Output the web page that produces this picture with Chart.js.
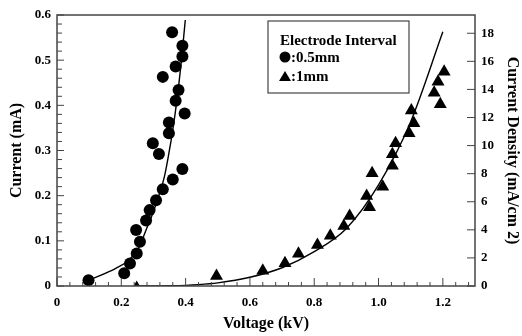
<!DOCTYPE html>
<html>
<head>
<meta charset="utf-8">
<script src="https://cdn.jsdelivr.net/npm/chart.js@4.4.1/dist/chart.umd.min.js"></script>
<style>
  html, body { margin: 0; padding: 0; background: #fff; }
</style>
</head>
<body>
<canvas id="myChart" width="522" height="336"></canvas>
<script>
// 0.5 mm electrode interval: voltage (kV) / current (mA)
var circleVolt = [0.098, 0.209, 0.227, 0.248, 0.258, 0.246, 0.277, 0.288, 0.308, 0.329, 0.360, 0.390,
                  0.317, 0.298, 0.348, 0.348, 0.397, 0.369, 0.378, 0.329, 0.369, 0.390, 0.390, 0.358];
var circleCurrent = [0.013, 0.028, 0.050, 0.072, 0.098, 0.124, 0.145, 0.168, 0.190, 0.214, 0.236, 0.259,
                     0.292, 0.316, 0.338, 0.362, 0.382, 0.410, 0.434, 0.463, 0.486, 0.508, 0.532, 0.562];

// 1 mm electrode interval: voltage (kV) / current density (mA/cm2)
var triVolt = [0.248, 0.496, 0.640, 0.709, 0.751, 0.810, 0.850, 0.892, 0.910, 0.963, 0.972, 0.980,
               1.013, 1.043, 1.043, 1.053, 1.095, 1.110, 1.102, 1.173, 1.192, 1.185, 1.204];
var triDensity = [-0.15, 0.71, 1.09, 1.62, 2.30, 2.92, 3.58, 4.27, 4.99, 6.41, 5.60, 8.03,
                  7.07, 8.57, 9.38, 10.16, 10.88, 11.59, 12.49, 13.77, 12.94, 14.55, 15.26];

// fitted curves
var fitCircleVolt = [0.10, 0.183, 0.225, 0.256, 0.277, 0.298, 0.319, 0.334, 0.348, 0.360, 0.373, 0.386, 0.399];
var fitCircleCurrent = [0.013, 0.039, 0.058, 0.087, 0.124, 0.161, 0.205, 0.242, 0.294, 0.345, 0.412, 0.493, 0.589];
var fitTriVolt = [0.25, 0.35, 0.44, 0.50, 0.60, 0.70, 0.80, 0.90, 1.00, 1.10, 1.20];
var fitTriDensity = [0, 0.02, 0.10, 0.22, 0.62, 1.30, 2.45, 4.10, 7.20, 11.70, 18.10];

var legendTitle = 'Electrode Interval';
var serif = '"Liberation Serif", "Times New Roman", serif';

function pairs(xs, ys) {
    return xs.map(function (x, i) { return { x: x, y: ys[i] }; });
}

var framePlugin = {
    id: 'frame',
    afterDatasetsDraw: function (chart) {
        var ctx = chart.ctx, a = chart.chartArea;
        var sx = chart.scales.x, sy = chart.scales.y, sy2 = chart.scales.y2;
        var i, p, len;
        ctx.save();
        ctx.strokeStyle = '#444';
        ctx.lineWidth = 1.5;
        ctx.strokeRect(a.left, a.top, a.right - a.left, a.bottom - a.top);
        ctx.lineWidth = 1;
        ctx.beginPath();
        for (i = 0; i <= 32; i++) {
            p = sx.getPixelForValue(i * 0.04);
            len = i % 5 === 0 ? 8 : 4;
            ctx.moveTo(p, a.bottom);
            ctx.lineTo(p, a.bottom - len);
        }
        for (i = 0; i <= 30; i++) {
            p = sy.getPixelForValue(i * 0.02);
            len = i % 5 === 0 ? 7 : 5;
            ctx.moveTo(a.left, p);
            ctx.lineTo(a.left + len, p);
        }
        for (i = 0; i <= 9; i++) {
            p = sy2.getPixelForValue(i * 2);
            ctx.moveTo(a.right, p);
            ctx.lineTo(a.right - 8, p);
        }
        ctx.stroke();
        ctx.restore();
    }
};

var legendPlugin = {
    id: 'boxLegend',
    afterDraw: function (chart) {
        var ctx = chart.ctx;
        var bx = 268, by = 21, bw = 141, bh = 72;
        ctx.save();
        ctx.fillStyle = '#fff';
        ctx.fillRect(bx, by, bw, bh);
        ctx.strokeStyle = '#444';
        ctx.lineWidth = 1.2;
        ctx.strokeRect(bx, by, bw, bh);
        ctx.fillStyle = '#000';
        ctx.textBaseline = 'middle';
        ctx.font = 'bold 15px ' + serif;
        ctx.fillText(legendTitle, bx + 12, by + 20);
        // circle
        ctx.beginPath();
        ctx.arc(bx + 17, by + 36, 5.5, 0, Math.PI * 2);
        ctx.fill();
        ctx.fillText(chart.data.datasets[2].label, bx + 23, by + 37);
        // triangle
        ctx.beginPath();
        ctx.moveTo(bx + 17, by + 50);
        ctx.lineTo(bx + 23, by + 60);
        ctx.lineTo(bx + 11, by + 60);
        ctx.closePath();
        ctx.fill();
        ctx.fillText(chart.data.datasets[3].label, bx + 23, by + 56);
        ctx.restore();
    }
};

var tickFont = { family: serif, size: 13, weight: 'bold' };
var titleFont = { family: serif, size: 16, weight: 'bold' };

var ctx = document.getElementById('myChart').getContext('2d');
var myChart = new Chart(ctx, {
    type: 'scatter',
    data: {
        datasets: [{
            label: 'fit 0.5mm',
            data: pairs(fitCircleVolt, fitCircleCurrent),
            showLine: true,
            borderColor: '#000',
            borderWidth: 1.4,
            pointRadius: 0,
            cubicInterpolationMode: 'monotone',
            yAxisID: 'y'
        }, {
            label: 'fit 1mm',
            data: pairs(fitTriVolt, fitTriDensity),
            showLine: true,
            borderColor: '#000',
            borderWidth: 1.4,
            pointRadius: 0,
            cubicInterpolationMode: 'monotone',
            yAxisID: 'y2'
        }, {
            label: ':0.5mm',
            data: pairs(circleVolt, circleCurrent),
            pointStyle: 'circle',
            pointRadius: 6,
            backgroundColor: '#000',
            borderColor: '#000',
            borderWidth: 0,
            yAxisID: 'y'
        }, {
            label: ':1mm',
            data: pairs(triVolt, triDensity),
            pointStyle: 'triangle',
            pointRadius: 7.5,
            backgroundColor: '#000',
            borderColor: '#000',
            borderWidth: 0,
            yAxisID: 'y2'
        }]
    },
    options: {
        responsive: false,
        animation: false,
        layout: { padding: { top: 15 } },
        plugins: {
            legend: { display: false },
            tooltip: { enabled: false }
        },
        scales: {
            x: {
                type: 'linear',
                min: 0,
                max: 1.3,
                grid: { display: false, drawTicks: false },
                border: { display: false },
                ticks: { stepSize: 0.2, includeBounds: false, color: '#000', font: tickFont, padding: 9, maxRotation: 0 },
                title: { display: true, text: 'Voltage (kV)', color: '#000', font: titleFont, padding: { top: 0, bottom: 3 } },
                afterFit: function (s) { s.height = 50; }
            },
            y: {
                position: 'left',
                min: 0,
                max: 0.6,
                grid: { display: false, drawTicks: false },
                border: { display: false },
                ticks: { stepSize: 0.1, includeBounds: false, color: '#000', font: tickFont, padding: 6 },
                title: { display: true, text: 'Current (mA)', color: '#000', font: titleFont, padding: { top: 7, bottom: 0 } },
                afterFit: function (s) { s.width = 57; }
            },
            y2: {
                position: 'right',
                min: 0,
                max: 19.3,
                grid: { display: false, drawTicks: false },
                border: { display: false },
                ticks: { stepSize: 2, includeBounds: false, color: '#000', font: tickFont, padding: 6 },
                title: { display: true, text: 'Current Density (mA/cm 2)', color: '#000', font: titleFont, padding: { top: 0, bottom: 0 } },
                afterFit: function (s) { s.width = 47; }
            }
        }
    },
    plugins: [framePlugin, legendPlugin]
});
</script>
</body>
</html>
